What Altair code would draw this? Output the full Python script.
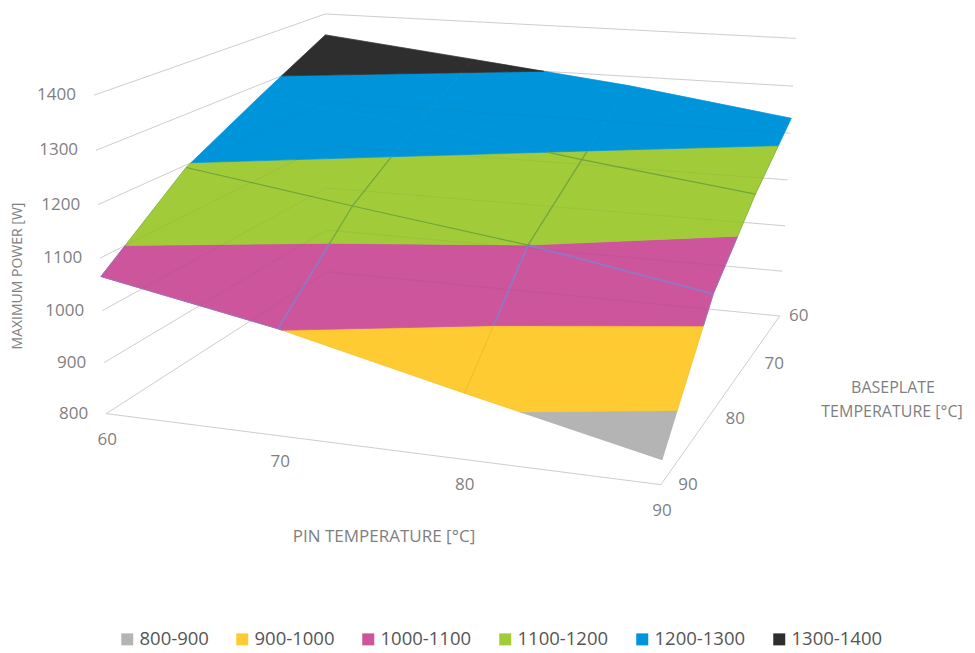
import numpy as np
import pandas as pd
import altair as alt

# ---- data ----
pin_temps = [60, 70, 80, 90]
base_temps = [60, 70, 80, 90]
power_base_60 = [1353, 1317, 1280, 1232]
power_base_70 = [1276, 1238, 1190, 1147]
power_base_80 = [1195, 1146, 1100, 1040]
power_base_90 = [1065, 1002, 922, 845]
power_rows = [power_base_60, power_base_70, power_base_80, power_base_90]
power_ticks = [800, 900, 1000, 1100, 1200, 1300, 1400]
band_names = ["800-900", "900-1000", "1000-1100", "1100-1200", "1200-1300", "1300-1400"]
band_lows = [800, 900, 1000, 1100, 1200, 1300]
band_colors = ["#b4b4b4", "#ffcb33", "#cc559c", "#a2cb3a", "#0095da", "#2e2e2e"]
band_line_colors = ["#a8a8a8", "#eebb30", "#9a72c0", "#6ea63c", "#0095da", "#2e2e2e"]
band_line_widths = [0.8, 1.0, 2.2, 1.2, 0.5, 0.5]
base_label_shift = [19, 28, 28, 27]

# ---- camera: where known corners of the 3D box land in the picture ----
camera_3d = [(60, 90, 800), (60, 90, 1400), (90, 60, 800), (90, 60, 1400),
             (90, 90, 800), (60, 60, 1400), (60, 90, 1100), (90, 60, 1100), (60, 60, 800)]
camera_2d = [(108, 413.5), (92.5, 95), (780, 316), (795, 39),
             (660.7, 485), (327, 14), (100, 258), (788.5, 179), (325, 272)]


def norm(p):
    return np.array([(p[0] - 60) / 30, (p[1] - 60) / 30, (p[2] - 800) / 600, 1.0])


rows = []
for a, (u, v) in zip(camera_3d, camera_2d):
    n = norm(a)
    rows.append(np.r_[n, np.zeros(4), -u * n])
    rows.append(np.r_[np.zeros(4), n, -v * n])
P = np.linalg.svd(np.array(rows))[2][-1].reshape(3, 4)


def project(p):
    h = P @ norm(p)
    return h[0] / h[2], h[1] / h[2]


def clip(poly, level, keep_above):
    out = []
    for i in range(len(poly)):
        a, b = poly[i], poly[(i + 1) % len(poly)]
        ina = a[2] >= level if keep_above else a[2] <= level
        inb = b[2] >= level if keep_above else b[2] <= level
        if ina:
            out.append(a)
        if ina != inb:
            t = (level - a[2]) / (b[2] - a[2])
            out.append(tuple(a[k] + t * (b[k] - a[k]) for k in range(3)))
    return out


# ---- surface polygons ----
poly_rows = []
pid = 0
for i in range(3):
    for j in range(3):
        quad = [(pin_temps[j], base_temps[i], power_rows[i][j]),
                (pin_temps[j + 1], base_temps[i], power_rows[i][j + 1]),
                (pin_temps[j + 1], base_temps[i + 1], power_rows[i + 1][j + 1]),
                (pin_temps[j], base_temps[i + 1], power_rows[i + 1][j])]
        for name, low in zip(band_names, band_lows):
            poly = clip(clip(quad, low, True), low + 100, False)
            if len(poly) < 3:
                continue
            for k, p in enumerate(poly + poly[:1]):
                x, y = project(p)
                poly_rows.append(dict(pid=pid, k=k, x=x, y=y, band=name))
            pid += 1
polys = pd.DataFrame(poly_rows)

# ---- mesh lines on the surface, cut by band ----
mesh_rows = []
sid = 0


def add_mesh(a, b, edge):
    global sid
    for name, low, width in zip(band_names, band_lows, band_line_widths):
        zs = sorted([a[2], b[2]])
        lo, hi = max(zs[0], low), min(zs[1], low + 100)
        if hi <= lo:
            continue
        pts = []
        for z in (lo, hi):
            t = (z - a[2]) / (b[2] - a[2])
            pts.append((a[0] + t * (b[0] - a[0]), a[1] + t * (b[1] - a[1]), z))
        for k, p in enumerate(pts):
            x, y = project(p)
            mesh_rows.append(dict(sid=sid, k=k, x=x, y=y, band=name, w=width * (0.45 if edge else 1)))
        sid += 1


for i in range(4):
    for j in range(3):
        add_mesh((pin_temps[j], base_temps[i], power_rows[i][j]),
                 (pin_temps[j + 1], base_temps[i], power_rows[i][j + 1]), i in (0, 3))
        add_mesh((pin_temps[i], base_temps[j], power_rows[j][i]),
                 (pin_temps[i], base_temps[j + 1], power_rows[j + 1][i]), i in (0, 3))
mesh = pd.DataFrame(mesh_rows)
mesh["color"] = mesh["band"].map(dict(zip(band_names, band_line_colors)))

# ---- box grid lines ----
grid_rows = []
gid = 0
for z in power_ticks:
    for k, p in enumerate([(60, 90, z), (60, 60, z), (90, 60, z)]):
        x, y = project(p)
        grid_rows.append(dict(gid=gid, k=k, x=x, y=y))
    gid += 1
for k, p in enumerate([(60, 90, 800), (90, 90, 800), (90, 60, 800)]):
    x, y = project(p)
    grid_rows.append(dict(gid=gid, k=k, x=x, y=y))
grid = pd.DataFrame(grid_rows)

# ---- labels ----
label_rows = []
for z in power_ticks:
    x, y = project((60, 90, z))
    label_rows.append(dict(x=x - 18, y=y, t=str(z), align="right"))
for pin in pin_temps:
    x, y = project((pin, 90, 800))
    label_rows.append(dict(x=x + 1, y=y + 26, t=str(pin), align="center"))
for base, shift in zip(base_temps, base_label_shift):
    x, y = project((90, base, 800))
    label_rows.append(dict(x=x + shift, y=y, t=str(base), align="center"))
labels = pd.DataFrame(label_rows)
titles = pd.DataFrame([
    dict(x=384, y=537, t="PIN TEMPERATURE [°C]", a=0, s=17),
    dict(x=893, y=388, t="BASEPLATE", a=0, s=16),
    dict(x=892, y=412, t="TEMPERATURE [°C]", a=0, s=16),
    dict(x=18, y=276, t="MAXIMUM POWER [W]", a=270, s=14),
])

X = alt.X("x:Q", scale=alt.Scale(domain=[8, 967], nice=False, zero=False), axis=None)
Y = alt.Y("y:Q", scale=alt.Scale(domain=[653, 8], nice=False, zero=False), axis=None)
SIZE = alt.Size("s:Q", scale=None)
GREY = "#7f7f7f"
FONT = "Open Sans"

grid_layer = alt.Chart(grid).mark_line(color="#d9d9d9", strokeWidth=1).encode(
    x=X, y=Y, detail="gid:N", order="k:Q")

scale = alt.Scale(domain=band_names, range=band_colors)
surface = alt.Chart(polys).mark_line(strokeWidth=0.7, strokeJoin="round").encode(
    x=X, y=Y, detail="pid:N", order="k:Q",
    fill=alt.Fill("band:N", scale=scale, legend=alt.Legend(
        orient="none", legendX=110, legendY=622, direction="horizontal", columns=6,
        title=None, symbolType="square", symbolSize=144, symbolStrokeWidth=0,
        labelFont=FONT, labelFontSize=18.5, labelColor="#555555", labelOffset=3,
        columnPadding=24, labelLimit=300)),
    stroke=alt.Stroke("band:N", scale=scale, legend=None),
)
mesh_layer = alt.Chart(mesh).mark_line().encode(
    x=X, y=Y, detail="sid:N", order="k:Q",
    stroke=alt.Stroke("color:N", scale=None),
    strokeWidth=alt.StrokeWidth("w:Q", scale=None),
)
faint = alt.Chart(grid).mark_line(color="#404040", strokeWidth=1, opacity=0.07).encode(
    x=X, y=Y, detail="gid:N", order="k:Q")
right_labels = alt.Chart(labels[labels["align"] == "right"]).mark_text(
    font=FONT, fontSize=17, color=GREY, baseline="middle", align="right").encode(x=X, y=Y, text="t:N")
center_labels = alt.Chart(labels[labels["align"] == "center"]).mark_text(
    font=FONT, fontSize=17, color=GREY, baseline="middle", align="center").encode(x=X, y=Y, text="t:N")
title_h = alt.Chart(titles[titles["a"] == 0]).mark_text(
    font=FONT, color=GREY, baseline="middle", align="center").encode(x=X, y=Y, text="t:N", size=SIZE)
title_v = alt.Chart(titles[titles["a"] == 270]).mark_text(
    font=FONT, color=GREY, baseline="middle", align="center", angle=270).encode(x=X, y=Y, text="t:N", size=SIZE)

chart = (grid_layer + surface + mesh_layer + faint + right_labels + center_labels + title_h + title_v).properties(
    width=959, height=645, padding=0, autosize=alt.AutoSizeParams(type="none"), background="white"
).configure_view(strokeWidth=0)

chart.save("out.html", embed_options={"renderer": "svg", "actions": False})
